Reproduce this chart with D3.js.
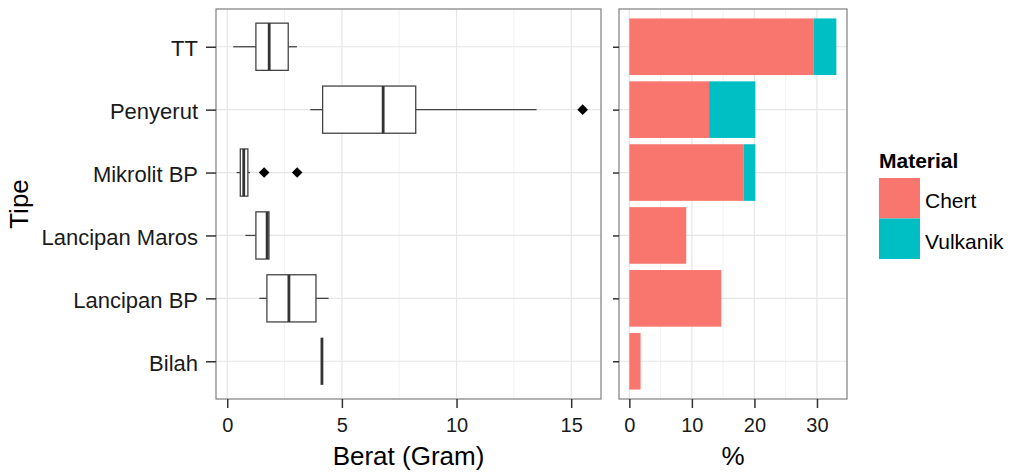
<!DOCTYPE html>
<html>
<head>
<meta charset="utf-8">
<script src="https://cdn.jsdelivr.net/npm/d3@7"></script>
<style>
  body { margin: 0; background: #fff; }
  text { font-family: "Liberation Sans", Arial, sans-serif; }
</style>
</head>
<body>
<svg id="chart"></svg>
<script>
const width = 1015, height = 474;

const tipe = ['TT', 'Penyerut', 'Mikrolit BP', 'Lancipan Maros', 'Lancipan BP', 'Bilah']
// box stats: [whiskerLow, q1, median, q3, whiskerHigh]
const boxStats = [
  [0.26, 1.25, 1.83, 2.66, 3.04],
  [3.62, 4.16, 6.8, 8.22, 13.49],
  [0.41, 0.57, 0.72, 0.9, 0.99],
  [0.79, 1.25, 1.74, 1.82, 1.82],
  [1.4, 1.73, 2.69, 3.87, 4.42],
  [4.13, 4.13, 4.13, 4.13, 4.13]
]
const outliers = [[], [15.5], [1.61, 3.05], [], [], []]
const chert = [29.5, 12.75, 18.3, 9.1, 14.7, 1.8]
const vulkanik = [3.6, 7.4, 1.85, 0, 0, 0]
const materials = ['Chert', 'Vulkanik']
const colors = {Chert: '#F8766D', Vulkanik: '#00BFC4'}

const svg = d3.select('#chart').attr('width', width).attr('height', height)
svg.append('rect').attr('width', width).attr('height', height).attr('fill', '#fff')

const pTop = 9, pBottom = 399
// discrete axis expanded by 0.6 units each side, like ggplot
const y = d3.scalePoint().domain(tipe).range([pTop, pBottom]).padding(0.6)
const step = y.step()

// ---- left panel: boxplots
const L = {x0: 216, x1: 601}
const xL = d3.scaleLinear().domain([-0.49, 16.3]).range([L.x0, L.x1])
const gL = svg.append('g')

gL.selectAll('.minor').data([2.5, 7.5, 12.5]).enter().append('line')
  .attr('x1', d => xL(d)).attr('x2', d => xL(d)).attr('y1', pTop).attr('y2', pBottom)
  .attr('stroke', '#f2f2f2').attr('stroke-width', 1)
gL.selectAll('.major').data([0, 5, 10, 15]).enter().append('line')
  .attr('x1', d => xL(d)).attr('x2', d => xL(d)).attr('y1', pTop).attr('y2', pBottom)
  .attr('stroke', '#e6e6e6').attr('stroke-width', 1.2)
gL.selectAll('.hgrid').data(tipe).enter().append('line')
  .attr('x1', L.x0).attr('x2', L.x1)
  .attr('y1', d => y(d)).attr('y2', d => y(d))
  .attr('stroke', '#e6e6e6').attr('stroke-width', 1.2)

const boxH = step * 0.75
tipe.forEach((t, i) => {
  const s = boxStats[i]
  const cy = y(t)
  const g = gL.append('g')
  g.append('line').attr('x1', xL(s[0])).attr('x2', xL(s[1])).attr('y1', cy).attr('y2', cy)
    .attr('stroke', '#444').attr('stroke-width', 1.3)
  g.append('line').attr('x1', xL(s[3])).attr('x2', xL(s[4])).attr('y1', cy).attr('y2', cy)
    .attr('stroke', '#444').attr('stroke-width', 1.3)
  g.append('rect').attr('x', xL(s[1])).attr('y', cy - boxH / 2)
    .attr('width', xL(s[3]) - xL(s[1])).attr('height', boxH)
    .attr('fill', '#fff').attr('stroke', '#444').attr('stroke-width', 1.3)
  g.append('line').attr('x1', xL(s[2])).attr('x2', xL(s[2]))
    .attr('y1', cy - boxH / 2).attr('y2', cy + boxH / 2)
    .attr('stroke', '#333').attr('stroke-width', 2.8)
  g.selectAll('path').data(outliers[i]).enter().append('path')
    .attr('d', d3.symbol(d3.symbolDiamond2, 72))
    .attr('transform', d => `translate(${xL(d)},${cy})`)
    .attr('fill', '#000')
})

gL.append('rect').attr('x', L.x0).attr('y', pTop).attr('width', L.x1 - L.x0).attr('height', pBottom - pTop)
  .attr('fill', 'none').attr('stroke', '#7f7f7f').attr('stroke-width', 1.2)

const axL = svg.append('g').attr('transform', `translate(0,${pBottom})`)
  .call(d3.axisBottom(xL).tickValues([0, 5, 10, 15]).tickSize(9).tickPadding(10))
const axY = svg.append('g').attr('transform', `translate(${L.x0},0)`)
  .call(d3.axisLeft(y).tickSize(10).tickPadding(8))

// ---- right panel: stacked bars
const R = {x0: 619, x1: 847}
const xR = d3.scaleLinear().domain([-1.65, 34.8]).range([R.x0, R.x1])
const gR = svg.append('g')
gR.selectAll('.minor').data([5, 15, 25]).enter().append('line')
  .attr('x1', d => xR(d)).attr('x2', d => xR(d)).attr('y1', pTop).attr('y2', pBottom)
  .attr('stroke', '#f2f2f2').attr('stroke-width', 1)
gR.selectAll('.major').data([0, 10, 20, 30]).enter().append('line')
  .attr('x1', d => xR(d)).attr('x2', d => xR(d)).attr('y1', pTop).attr('y2', pBottom)
  .attr('stroke', '#e6e6e6').attr('stroke-width', 1.2)
gR.selectAll('.hgrid').data(tipe).enter().append('line')
  .attr('x1', R.x0).attr('x2', R.x1)
  .attr('y1', d => y(d)).attr('y2', d => y(d))
  .attr('stroke', '#e6e6e6').attr('stroke-width', 1.2)

const rows = tipe.map((t, i) => ({tipe: t, Chert: chert[i], Vulkanik: vulkanik[i]}))
const stacked = d3.stack().keys(materials)(rows)
const barH = step * 0.9
gR.selectAll('.layer').data(stacked).enter().append('g')
  .attr('fill', d => colors[d.key])
  .selectAll('rect').data(d => d.filter(v => v[1] > v[0])).enter().append('rect')
    .attr('x', d => xR(d[0])).attr('width', d => xR(d[1]) - xR(d[0]))
    .attr('y', d => y(d.data.tipe) - barH / 2).attr('height', barH)

gR.append('rect').attr('x', R.x0).attr('y', pTop).attr('width', R.x1 - R.x0).attr('height', pBottom - pTop)
  .attr('fill', 'none').attr('stroke', '#7f7f7f').attr('stroke-width', 1.2)

const axR = svg.append('g').attr('transform', `translate(0,${pBottom})`)
  .call(d3.axisBottom(xR).tickValues([0, 10, 20, 30]).tickSize(9).tickPadding(10))
const axYR = svg.append('g').attr('transform', `translate(${R.x0},0)`)
  .call(d3.axisLeft(y).tickSize(6).tickFormat(''))

;[axL, axY, axR, axYR].forEach(a => {
  a.select('.domain').remove()
  a.selectAll('.tick line').attr('stroke', '#333').attr('stroke-width', 1.5)
  a.selectAll('.tick text').attr('fill', '#1a1a1a').style('font-size', '20px')
})
axY.selectAll('.tick text').style('font-size', '22px').attr('dy', '0.42em')

// axis titles
svg.append('text').attr('x', (L.x0 + L.x1) / 2).attr('y', 465).attr('text-anchor', 'middle')
  .style('font-size', '26px').attr('fill', '#000').text('Berat (Gram)')
svg.append('text').attr('x', (R.x0 + R.x1) / 2).attr('y', 465).attr('text-anchor', 'middle')
  .style('font-size', '26px').attr('fill', '#000').text('%')
svg.append('text').attr('transform', `translate(28,${(pTop + pBottom) / 2}) rotate(-90)`)
  .attr('text-anchor', 'middle').style('font-size', '26px').attr('fill', '#000').text('Tipe')

// legend
const leg = svg.append('g').attr('transform', 'translate(879,0)')
leg.append('text').attr('x', 0).attr('y', 168).style('font-size', '21px').style('font-weight', 'bold')
  .attr('fill', '#000').text('Material')
leg.selectAll('rect').data(materials).enter().append('rect')
  .attr('x', 0).attr('y', (d, i) => 178 + i * 40.5).attr('width', 41).attr('height', 40.5)
  .attr('fill', d => colors[d])
leg.selectAll('.lab').data(materials).enter().append('text')
  .attr('x', 46).attr('y', (d, i) => 208 + i * 40.5).style('font-size', '21px').attr('fill', '#000')
  .text(d => d)
</script>
</body>
</html>
